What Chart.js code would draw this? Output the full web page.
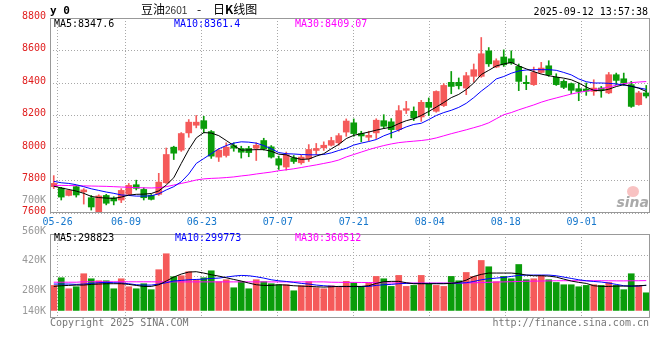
<!DOCTYPE html>
<html>
<head>
<meta charset="utf-8">
<script src="https://cdn.jsdelivr.net/npm/chart.js@4.4.1/dist/chart.umd.min.js"></script>
<style>
  html, body { margin: 0; padding: 0; background: #fff; }
  #wrap { position: relative; width: 660px; height: 360px; overflow: hidden;
          font-family: 'DejaVu Sans Mono', monospace; font-size: 10px; line-height: 10px; }
  #wrap canvas { position: absolute; left: 0; top: 0; }
  .t { position: absolute; white-space: pre; }
  .r { text-align: right; right: 614px; }
  .gray { color: #999; }
</style>
</head>
<body>
<div id="wrap">
  <canvas id="priceChart" width="660" height="360"></canvas>
  <canvas id="volChart" width="660" height="360"></canvas>

  <!-- header -->
  <div class="t" style="left:50px;top:5px;font-size:11px;line-height:11px;font-weight:bold">y 0</div>
  <div class="t" style="left:141px;top:3px;font-family:'Noto Sans CJK SC';font-size:12px;line-height:12px">豆油<span style="font-family:'Liberation Sans';font-size:10px;color:#333">2601</span></div>
  <div class="t" style="left:197px;top:3px;font-family:'Noto Sans CJK SC';font-size:12px;line-height:12px">-</div>
  <div class="t" style="left:213px;top:3px;font-family:'Noto Sans CJK SC';font-size:12px;line-height:12px">日<b>K</b>线图</div>
  <div class="t" style="right:12px;top:7px">2025-09-12 13:57:38</div>

  <!-- price legend -->
  <div class="t" style="left:54px;top:19px;color:#000">MA5:8347.6</div>
  <div class="t" style="left:174px;top:19px;color:#0000ff">MA10:8361.4</div>
  <div class="t" style="left:295px;top:19px;color:#ff00ff">MA30:8409.07</div>
  <div class="t r gray" style="top:195px">700K</div>

  <!-- sina mark -->
  <div style="position:absolute;left:627px;top:186px;width:12px;height:11px;border-radius:50%;background:rgba(240,120,120,0.45)"></div>
  <div class="t" style="right:11px;top:195px;font-family:'DejaVu Sans';font-size:14px;line-height:14px;font-style:italic;font-weight:bold;color:#aaa">sina</div>

  <!-- volume legend and axis -->
  <div class="t" style="left:54px;top:233px;color:#000">MA5:298823</div>
  <div class="t" style="left:175px;top:233px;color:#0000ff">MA10:299773</div>
  <div class="t" style="left:295px;top:233px;color:#ff00ff">MA30:360512</div>
  <div class="t r gray" style="top:226px">560K</div>
  <div class="t r gray" style="top:255px">420K</div>
  <div class="t r gray" style="top:285px">280K</div>
  <div class="t r gray" style="top:306px">140K</div>

  <!-- footer -->
  <div class="t" style="left:50px;top:318px;color:#777">Copyright 2025 SINA.COM</div>
  <div class="t" style="right:11px;top:318px;color:#777">http://finance.sina.com.cn</div>
</div>

<script>
// trading days shown on the chart
const dates = [
  '05-23','05-26','05-27','05-28','05-29','05-30','06-03','06-04','06-05','06-06',
  '06-09','06-10','06-11','06-12','06-13','06-16','06-17','06-18','06-19','06-20',
  '06-23','06-24','06-25','06-26','06-27','06-30','07-01','07-02','07-03','07-04',
  '07-07','07-08','07-09','07-10','07-11','07-14','07-15','07-16','07-17','07-18',
  '07-21','07-22','07-23','07-24','07-25','07-28','07-29','07-30','07-31','08-01',
  '08-04','08-05','08-06','08-07','08-08','08-11','08-12','08-13','08-14','08-15',
  '08-18','08-19','08-20','08-21','08-22','08-25','08-26','08-27','08-28','08-29',
  '09-01','09-02','09-03','09-04','09-05','09-08','09-09','09-10','09-11','09-12'
];
const tickLabels = ['05-26','06-09','06-23','07-07','07-21','08-04','08-18','09-01'];

const openP = [
  7762,7753,7708,7762,7730,7694,7605,7708,7692,7680,
  7715,7774,7745,7708,7715,7786,8005,7987,8093,8140,
  8168,8101,7944,7954,8015,7997,7997,7999,8046,8007,
  7934,7883,7940,7909,7934,7985,8001,8017,8032,8098,
  8155,8089,8066,8093,8168,8161,8113,8232,8226,8191,
  8281,8226,8261,8404,8404,8369,8441,8441,8598,8498,
  8560,8549,8502,8404,8390,8465,8506,8435,8410,8396,
  8365,8363,8348,8369,8339,8451,8426,8390,8267,8339
];
const highP = [
  7830,7758,7745,7768,7750,7708,7712,7715,7700,7750,
  7782,7802,7755,7714,7844,8000,8011,8095,8175,8200,
  8195,8108,7995,8032,8032,8011,8010,8032,8060,8015,
  7950,7975,7954,7955,8021,8028,8038,8066,8089,8179,
  8179,8103,8103,8180,8205,8181,8261,8287,8253,8293,
  8308,8352,8396,8471,8431,8465,8517,8680,8618,8549,
  8604,8598,8517,8445,8498,8527,8537,8457,8420,8400,
  8400,8400,8420,8379,8465,8461,8461,8410,8349,8385
];
const lowP = [
  7750,7680,7705,7698,7655,7618,7598,7650,7650,7664,
  7712,7742,7680,7680,7708,7782,7929,7979,8066,8124,
  8093,7936,7917,7944,7980,7938,7946,7923,7987,7938,
  7868,7864,7905,7900,7917,7960,7985,8012,8017,8072,
  8072,8038,8044,8058,8120,8062,8103,8212,8169,8164,
  8199,8220,8255,8334,8363,8328,8406,8435,8502,8494,
  8502,8515,8353,8359,8385,8461,8441,8385,8365,8334,
  8291,8324,8324,8312,8334,8390,8385,8250,8263,8308
];
const closeP = [
  7782,7698,7739,7711,7742,7637,7705,7660,7674,7739,
  7770,7752,7694,7684,7790,7960,7968,8089,8159,8159,
  8120,7950,7987,8005,7999,7974,7972,8017,7995,7944,
  7895,7958,7917,7944,7991,7997,8017,8046,8076,8166,
  8089,8074,8078,8171,8134,8113,8230,8242,8185,8281,
  8250,8348,8385,8379,8383,8445,8482,8580,8518,8537,
  8512,8523,8410,8396,8465,8492,8451,8390,8373,8355,
  8348,8350,8369,8355,8451,8416,8400,8256,8339,8320
];

// moving averages as drawn on the price panel
const ma5 = [
  7765,7754,7745,7735,7721,7702,7695,7692,7690,7698,
  7710,7715,7716,7720,7736,7772,7817,7905,7990,8062,
  8095,8092,8076,8046,8015,7987,7988,7990,7990,7980,
  7962,7958,7940,7930,7932,7950,7965,7995,8022,8058,
  8078,8088,8098,8110,8120,8128,8150,8168,8180,8200,
  8225,8252,8280,8310,8330,8360,8400,8452,8478,8505,
  8517,8527,8505,8487,8470,8455,8445,8437,8430,8420,
  8400,8375,8355,8352,8362,8378,8390,8380,8368,8348
];
const ma10 = [
  7795,7786,7782,7774,7762,7749,7739,7729,7721,7711,
  7708,7704,7704,7706,7718,7742,7762,7792,7840,7905,
  7935,7965,7995,8015,8030,8038,8036,8030,8015,7995,
  7972,7965,7963,7960,7958,7958,7960,7970,7985,7998,
  8018,8030,8040,8052,8075,8092,8110,8130,8145,8152,
  8175,8200,8218,8232,8250,8275,8310,8350,8385,8425,
  8440,8460,8474,8480,8482,8482,8482,8478,8465,8450,
  8425,8408,8400,8400,8398,8394,8388,8380,8370,8361
];
const ma30 = [
  7770,7770,7769,7768,7767,7766,7765,7764,7762,7760,
  7758,7756,7755,7754,7756,7762,7772,7782,7792,7803,
  7810,7813,7815,7818,7822,7828,7833,7840,7846,7852,
  7860,7866,7872,7880,7888,7896,7905,7914,7926,7945,
  7960,7975,7990,8003,8015,8025,8033,8038,8042,8046,
  8052,8062,8075,8088,8100,8112,8125,8138,8155,8180,
  8205,8218,8235,8250,8265,8282,8296,8308,8320,8332,
  8342,8350,8358,8366,8375,8386,8396,8402,8406,8409
];

// volume (lots) and its moving averages
const volume = [
  298000,389000,258000,282000,437000,377000,353000,353000,258000,377000,
  282000,258000,318000,247000,485000,675000,401000,413000,461000,366000,
  389000,472000,342000,366000,270000,342000,258000,366000,342000,318000,
  306000,306000,234000,294000,342000,270000,258000,294000,274000,346000,
  326000,286000,326000,405000,377000,286000,417000,286000,298000,417000,
  314000,298000,286000,405000,353000,452000,405000,595000,520000,342000,
  405000,377000,547000,366000,377000,417000,366000,333000,306000,306000,
  282000,298000,306000,298000,333000,298000,247000,437000,294000,210000
];
const volMa5 = [
  286000,294000,298000,302000,302000,310000,314000,318000,318000,318000,
  310000,298000,286000,286000,306000,350000,397000,433000,457000,461000,
  445000,425000,409000,389000,369000,350000,326000,306000,298000,298000,
  306000,302000,294000,290000,286000,282000,278000,282000,286000,286000,
  286000,286000,294000,322000,342000,346000,346000,330000,318000,318000,
  318000,318000,318000,322000,334000,361000,405000,429000,445000,445000,
  445000,445000,437000,421000,413000,413000,409000,397000,373000,350000,
  334000,322000,294000,286000,286000,290000,290000,290000,294000,299000
];
const volMa10 = [
  314000,314000,314000,310000,314000,322000,330000,334000,330000,326000,
  318000,306000,302000,302000,314000,330000,350000,357000,365000,369000,
  373000,381000,385000,397000,409000,417000,413000,401000,385000,365000,
  353000,345000,334000,322000,314000,302000,294000,288000,284000,284000,
  284000,284000,286000,298000,306000,310000,318000,322000,322000,322000,
  322000,322000,322000,322000,326000,330000,345000,365000,377000,385000,
  393000,405000,417000,421000,421000,421000,421000,413000,397000,381000,
  365000,353000,345000,338000,326000,310000,294000,290000,290000,300000
];
const volMa30 = [
  336000,336000,336000,336000,341000,341000,341000,341000,341000,341000,
  341000,341000,341000,341000,340000,340000,340000,340000,340000,340000,
  340000,340000,340000,340000,340000,340000,340000,340000,340000,340000,
  340000,340000,340000,340000,340000,340000,340000,336000,335000,334000,
  334000,333000,332000,330000,328000,327000,326000,326000,326000,326000,
  326000,326000,326000,326000,326000,326000,329000,332000,335000,338000,
  340000,342000,345000,347000,349000,350000,352000,353000,354000,354000,
  354000,354000,354000,354000,353000,352000,352000,353000,354000,355000
];

const UP = '#f55a5a';
const DOWN = '#0a9c0a';
const GRID = '#a8a8a8';
const FONT = { family: "'DejaVu Sans Mono', monospace", size: 10 };

const candleColors = dates.map((d, i) => closeP[i] >= openP[i] ? UP : DOWN);

// panel border drawn around the plot area
const framePlugin = {
  id: 'frame',
  afterDraw(chart) {
    const { ctx, chartArea: a } = chart;
    ctx.save();
    ctx.strokeStyle = '#999';
    ctx.lineWidth = 1;
    ctx.strokeRect(a.left + 0.5, a.top + 0.5, a.right - a.left - 1, a.bottom - a.top - 1);
    ctx.restore();
  }
};

function dateAxis(showLabels) {
  return {
    type: 'category',
    position: 'bottom',
    offset: false,
    grid: { offset: false, color: GRID, drawTicks: false },
    border: { display: false, dash: [1, 2] },
    ticks: {
      display: showLabels, autoSkip: false, maxRotation: 0,
      color: '#1677cc', font: FONT, padding: 3,
    },
    afterBuildTicks: (axis) => {
      axis.ticks = axis.ticks.filter(t => tickLabels.includes(dates[t.value]));
    },
    afterFit: (axis) => { axis.height = showLabels ? 20 : 0; },
  };
}

function maLine(label, data, color) {
  return {
    type: 'line', label, data,
    borderColor: color, borderWidth: 1,
    pointRadius: 0, tension: 0,
    xAxisID: 'xc', order: 0,
  };
}

new Chart(document.getElementById('priceChart'), {
  type: 'bar',
  data: {
    labels: dates,
    datasets: [
      maLine('MA5', ma5, '#000000'),
      maLine('MA10', ma10, '#0000ff'),
      maLine('MA30', ma30, '#ff00ff'),
      {
        label: 'wick',
        data: dates.map((d, i) => [lowP[i], highP[i]]),
        backgroundColor: candleColors,
        barThickness: 1, grouped: false,
        xAxisID: 'xc', order: 2,
      },
      {
        label: 'body',
        data: dates.map((d, i) => [openP[i], closeP[i]]),
        backgroundColor: candleColors,
        barThickness: 6, grouped: false, minBarLength: 1,
        xAxisID: 'xc', order: 1,
      },
    ],
  },
  options: {
    responsive: false,
    animation: false,
    layout: { padding: { top: 18, bottom: 127, left: 0, right: 10 } },
    plugins: { legend: { display: false }, tooltip: { enabled: false } },
    scales: {
      x: dateAxis(true),
      xc: { type: 'category', axis: 'x', position: 'bottom', offset: true, display: false },
      y: {
        min: 7600, max: 8800,
        grid: { color: GRID, drawTicks: false },
        border: { display: false, dash: [1, 2] },
        ticks: {
          stepSize: 200, color: '#e01e1e', font: FONT, padding: 4, labelOffset: -2,
          callback: (v) => String(v),
        },
        afterFit: (axis) => { axis.width = 50; },
      },
    },
  },
  plugins: [framePlugin],
});

new Chart(document.getElementById('volChart'), {
  type: 'bar',
  data: {
    labels: dates,
    datasets: [
      maLine('MA5', volMa5, '#000000'),
      maLine('MA10', volMa10, '#0000ff'),
      maLine('MA30', volMa30, '#ff00ff'),
      {
        label: 'volume',
        data: volume,
        backgroundColor: candleColors,
        barThickness: 6, grouped: false,
        xAxisID: 'xc', order: 1,
      },
    ],
  },
  options: {
    responsive: false,
    animation: false,
    layout: { padding: { top: 234, bottom: 42, left: 0, right: 10 } },
    plugins: { legend: { display: false }, tooltip: { enabled: false } },
    scales: {
      x: dateAxis(false),
      xc: { type: 'category', axis: 'x', position: 'bottom', offset: true, display: false },
      y: {
        min: -90000, max: 910000,
        grid: { color: GRID, drawTicks: false },
        border: { display: false, dash: [1, 2] },
        ticks: { display: false },
        afterBuildTicks: (axis) => {
          const span = axis.max - axis.min;
          axis.ticks = [1, 2, 3].map(q => ({ value: axis.min + span * q / 4 }));
        },
        afterFit: (axis) => { axis.width = 50; },
      },
    },
  },
  plugins: [framePlugin],
});
</script>
</body>
</html>
